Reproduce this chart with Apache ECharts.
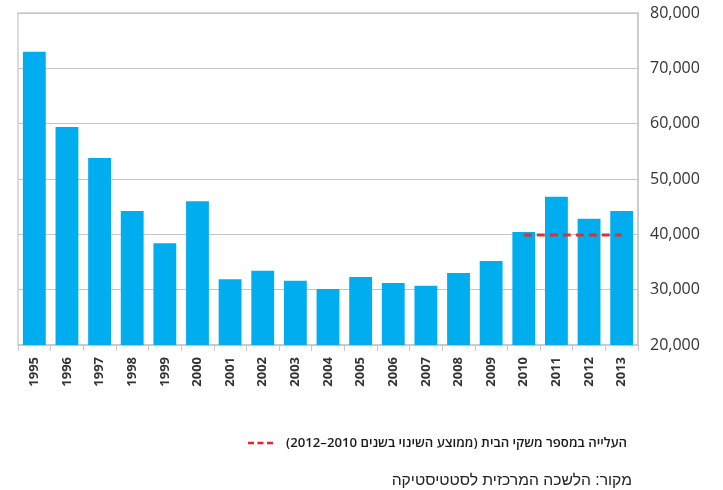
<!DOCTYPE html>
<html>
<head>
<meta charset="utf-8">
<script src="https://cdn.jsdelivr.net/npm/echarts@6/dist/echarts.min.js"></script>
<style>
  html, body { margin: 0; padding: 0; background: #fff; }
  #chart { width: 723px; height: 490px; }
</style>
</head>
<body>
<div id="chart" dir="rtl"></div>
<script>
// Households by year (annual increase in number of households)
const years = ['1995','1996','1997','1998','1999','2000','2001','2002','2003','2004',
               '2005','2006','2007','2008','2009','2010','2011','2012','2013'];
const households = [73000, 59400, 53800, 44200, 38400, 46000, 31900, 33400, 31600, 30100,
                    32300, 31200, 30700, 33000, 35200, 40400, 46800, 42800, 44200];
// Average change for 2010-2012, drawn across the last years
const avgChange = [null, null, null, null, null, null, null, null, null, null,
                   null, null, null, null, null, 39900, 39900, 39900, 39900];
const yTicks = [20000, 30000, 40000, 50000, 60000, 70000, 80000];

const legendText = 'העלייה במספר משקי הבית (ממוצע השינוי בשנים 2010\u20132012)';
const sourceText = 'מקור: הלשכה המרכזית לסטטיסטיקה';

const chart = echarts.init(document.getElementById('chart'), null, { renderer: 'canvas' });

chart.setOption({
  animation: false,
  backgroundColor: '#ffffff',
  grid: {
    left: 18, right: 85, top: 13, bottom: 145,
    show: true, borderColor: '#cfcfcf', borderWidth: 1.5
  },
  xAxis: {
    type: 'category',
    data: years,
    boundaryGap: true,
    axisLine: { show: true, lineStyle: { color: '#c8c8c8', width: 1.5 } },
    axisTick: { show: true, length: 6, alignWithLabel: false, lineStyle: { color: '#c8c8c8' } },
    axisLabel: {
      rotate: 90, margin: 12, fontSize: 13, fontWeight: 'bold', color: '#333',
      fontFamily: 'Open Sans, DejaVu Sans, sans-serif'
    }
  },
  yAxis: {
    type: 'value',
    position: 'right',
    min: yTicks[0], max: yTicks[yTicks.length - 1], interval: 10000,
    axisLine: { show: true, lineStyle: { color: '#c8c8c8', width: 1.5 } },
    axisTick: { show: false },
    splitLine: { show: true, lineStyle: { color: '#c4c4c4', width: 1 } },
    axisLabel: {
      margin: 12, fontSize: 16, color: '#333',
      fontFamily: 'Open Sans, DejaVu Sans, sans-serif',
      formatter: v => v.toLocaleString('en-US')
    }
  },
  series: [
    {
      type: 'bar',
      data: households,
      barWidth: '70%',
      itemStyle: { color: '#00AEEF' },
      z: 2
    },
    {
      type: 'line',
      data: avgChange,
      symbol: 'none',
      lineStyle: { color: '#e03030', width: 3, type: [8, 5] },
      z: 3
    }
  ],
  graphic: [
    {
      type: 'line',
      shape: { x1: 248, y1: 443, x2: 273, y2: 443 },
      style: { stroke: '#ee2222', lineWidth: 2.5, lineDash: [6, 3.5] }
    },
    {
      type: 'text',
      x: 627, y: 443,
      style: {
        text: legendText, align: 'right', verticalAlign: 'middle',
        fontSize: 13.2, fontWeight: 600, fill: '#1a1a1a',
        fontFamily: 'Open Sans, Liberation Sans, DejaVu Sans, sans-serif'
      }
    },
    {
      type: 'text',
      x: 632, y: 481,
      style: {
        text: sourceText, align: 'right', verticalAlign: 'middle',
        fontSize: 15.7, fill: '#222', fontFamily: 'Liberation Sans, DejaVu Sans, sans-serif'
      }
    }
  ]
});
</script>
</body>
</html>
